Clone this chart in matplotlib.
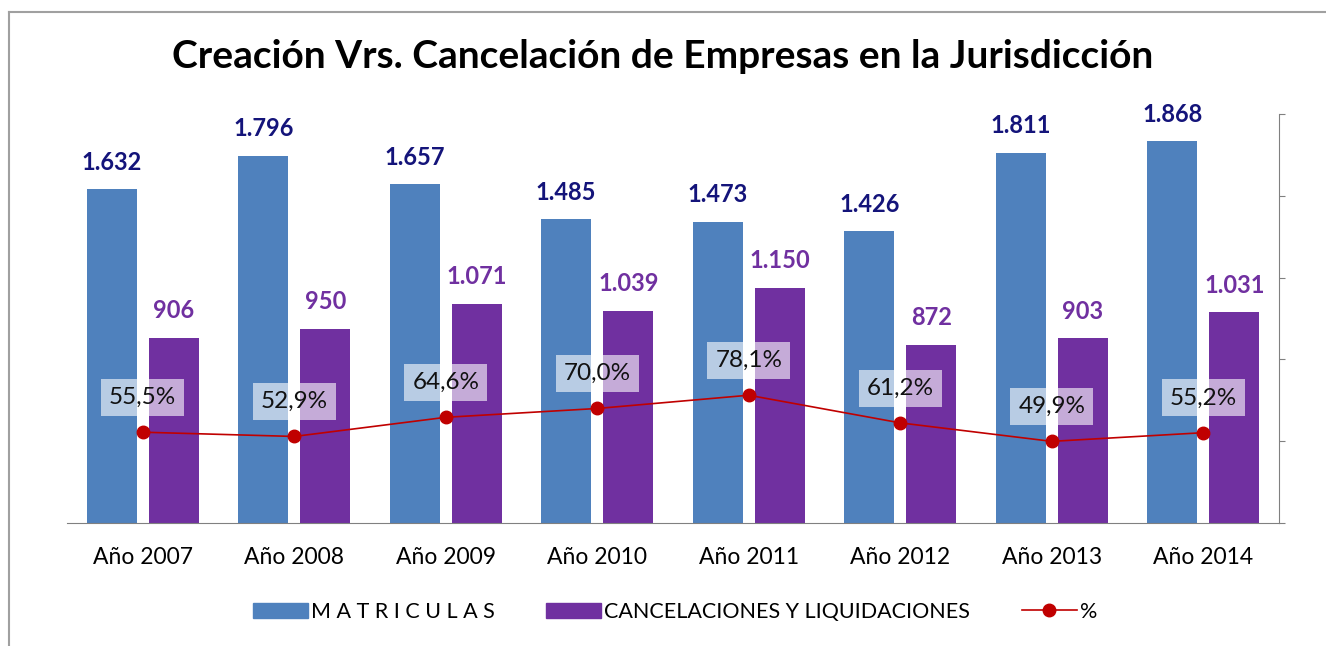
import matplotlib.pyplot as plt
import numpy as np
from matplotlib.lines import Line2D

plt.rcParams['font.family'] = ['Lato', 'DejaVu Sans']

anios = ['Año 2007', 'Año 2008', 'Año 2009', 'Año 2010', 'Año 2011', 'Año 2012', 'Año 2013', 'Año 2014']
matriculas = [1632, 1796, 1657, 1485, 1473, 1426, 1811, 1868]
cancelaciones = [906, 950, 1071, 1039, 1150, 872, 903, 1031]
porcentaje = [55.5, 52.9, 64.6, 70.0, 78.1, 61.2, 49.9, 55.2]

azul = '#4F81BD'
morado = '#7030A0'
rojo = '#C00000'

def miles(v):
    return f"{v:,}".replace(',', '.')

fig = plt.figure(figsize=(13.26, 6.46), dpi=100)
ax = fig.add_axes([67/1326, 1 - 523/646, 1212/1326, 409/646])
ax2 = ax.twinx()

x = np.arange(len(anios))
w = 0.33
ax.bar(x - 0.205, matriculas, w, color=azul, zorder=2)
ax.bar(x + 0.205, cancelaciones, w, color=morado, zorder=2)

for i in range(len(anios)):
    ax.text(x[i] - 0.205, matriculas[i] + 132, miles(matriculas[i]), ha='center', va='center',
            fontsize=17, fontweight='bold', color='#14147A')
    ax.text(x[i] + 0.205, cancelaciones[i] + 132, miles(cancelaciones[i]), ha='center', va='center',
            fontsize=17, fontweight='bold', color=morado)

ax.set_xlim(-0.5, 7.5)
ax.set_ylim(0, 2000)
ax.set_yticks([])
ax.set_xticks(x)
ax.set_xticklabels(anios, fontsize=16.5)
ax.tick_params(axis='x', length=0, pad=17)
for s in ['top', 'right', 'left']:
    ax.spines[s].set_visible(False)
ax.spines['bottom'].set_color('#808080')

ax2.plot(x, [p / 100 for p in porcentaje], color=rojo, lw=1.2, marker='o', ms=9,
         markerfacecolor='#C00000', markeredgecolor='#C00000', zorder=3)
ax2.set_ylim(0, 2.5)
ax2.set_yticks(np.arange(0, 2.51, 0.5))
ax2.set_yticklabels([])
ax2.tick_params(axis='y', length=4, color='#808080', direction='out')
for s in ['top', 'left', 'bottom']:
    ax2.spines[s].set_visible(False)
ax2.spines['right'].set_color('#808080')

for i, p in enumerate(porcentaje):
    ax2.annotate(f"{p:.1f}%".replace('.', ','), (x[i], p / 100), xytext=(0, 25),
                 textcoords='offset points', ha='center', va='center', fontsize=17.5,
                 color='#111111',
                 bbox=dict(boxstyle='square,pad=0.33', fc='white', ec='none', alpha=0.6))

fig.text(0.5, 1 - 57/646, 'Creación Vrs. Cancelación de Empresas en la Jurisdicción',
         ha='center', va='center', fontsize=28, fontweight='bold')

handles = [
    plt.Rectangle((0, 0), 1, 1, color=azul),
    plt.Rectangle((0, 0), 1, 1, color=morado),
    Line2D([0], [0], color=rojo, marker='o', ms=9, lw=1.2),
]
labels = ['M A T R I C U L A S', 'CANCELACIONES Y LIQUIDACIONES', '%']
fig.legend(handles, labels, loc='center', bbox_to_anchor=(0.5 + 12/1326, 1 - 612/646), ncol=3,
           frameon=False, fontsize=15.5, handlelength=2.55, columnspacing=2.4, handletextpad=0.15)

# marco del grafico
fig.add_artist(Line2D([9/1326, 1], [1 - 12/646, 1 - 12/646], color='#A0A0A0', lw=1.5))
fig.add_artist(Line2D([9/1326, 9/1326], [0, 1 - 12/646], color='#A0A0A0', lw=1.5))

fig.savefig('out.png', dpi=100)
